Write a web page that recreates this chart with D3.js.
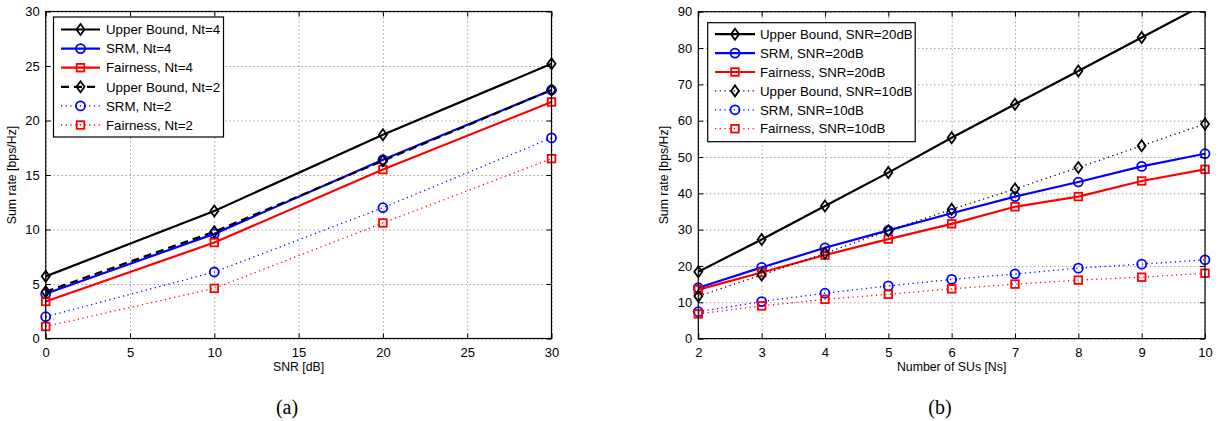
<!DOCTYPE html>
<html><head><meta charset="utf-8">
<script src="https://cdn.jsdelivr.net/npm/d3@7"></script>
<style>body{margin:0;background:#fff;} svg{display:block;font-family:"Liberation Sans",Arial,sans-serif;}</style>
</head><body>
<svg id="c" width="1225" height="421"></svg>
<script>
// ---- Data (a) ----
const snr = [0, 10, 20, 30];
const ubNt4 = [5.7, 11.7, 18.7, 25.2];
const srmNt4 = [4.1, 9.6, 16.4, 22.8];
const fairNt4 = [3.4, 8.8, 15.5, 21.7];
const ubNt2 = [4.3, 9.8, 16.3, 22.8];
const srmNt2 = [2.0, 6.1, 12.0, 18.4];
const fairNt2 = [1.1, 4.6, 10.6, 16.5];
const ticksXa = [0, 5, 10, 15, 20, 25, 30];
const ticksYa = [0, 5, 10, 15, 20, 25, 30];
const legendA = ["Upper Bound, Nt=4","SRM, Nt=4","Fairness, Nt=4","Upper Bound, Nt=2","SRM, Nt=2","Fairness, Nt=2"];
// ---- Data (b) ----
const ns = [2, 3, 4, 5, 6, 7, 8, 9, 10];
const ub20 = [18.4, 27.3, 36.5, 45.7, 55.3, 64.5, 73.7, 82.9, 92.1];
const srm20 = [14.0, 19.6, 25.0, 29.8, 34.5, 39.1, 43.1, 47.4, 50.9];
const fair20 = [13.5, 18.2, 23.0, 27.4, 31.6, 36.3, 39.1, 43.4, 46.6];
const ub10 = [11.7, 17.5, 23.5, 29.7, 35.6, 41.2, 47.1, 53.1, 59.1];
const srm10 = [7.4, 10.2, 12.5, 14.5, 16.3, 17.8, 19.4, 20.5, 21.7];
const fair10 = [6.8, 9.0, 10.8, 12.2, 13.7, 15.0, 16.1, 16.9, 18.0];
const ticksXb = [2, 3, 4, 5, 6, 7, 8, 9, 10];
const ticksYb = [0, 10, 20, 30, 40, 50, 60, 70, 80, 90];
const legendB = ["Upper Bound, SNR=20dB","SRM, SNR=20dB","Fairness, SNR=20dB","Upper Bound, SNR=10dB","SRM, SNR=10dB","Fairness, SNR=10dB"];

const svg = d3.select("#c");
const styles = [
  {c:"#000", m:"diamond", dash:null, w:2.2},
  {c:"#0000ff", m:"circle", dash:null, w:2.2},
  {c:"#ff0000", m:"square", dash:null, w:2.2},
];

function marker(g, type, x, y, color) {
  if (type === "diamond") {
    g.append("path").attr("d", `M${x},${y-5.5}L${x+4},${y}L${x},${y+5.5}L${x-4},${y}Z`)
      .attr("fill","none").attr("stroke",color).attr("stroke-width",1.8);
  } else if (type === "circle") {
    g.append("circle").attr("cx",x).attr("cy",y).attr("r",4.5)
      .attr("fill","none").attr("stroke",color).attr("stroke-width",1.8);
  } else {
    g.append("rect").attr("x",x-3.8).attr("y",y-3.8).attr("width",7.6).attr("height",7.6)
      .attr("fill","none").attr("stroke",color).attr("stroke-width",1.8);
  }
}

function panel(id, cfg) {
  const x = d3.scaleLinear().domain(cfg.xd).range([cfg.x0, cfg.x1]);
  const y = d3.scaleLinear().domain(cfg.yd).range([cfg.y0, cfg.y1]);
  const g = svg.append("g");
  // grid
  g.append("g").attr("transform",`translate(0,${cfg.y0})`)
    .call(d3.axisBottom(x).tickValues(cfg.tx).tickSize(-(cfg.y0-cfg.y1)).tickFormat(""))
    .call(a=>{a.select(".domain").remove(); a.selectAll("line").attr("stroke","#000").attr("stroke-dasharray","1,3").attr("stroke-width",0.8).attr("opacity",0.7);});
  g.append("g").attr("transform",`translate(${cfg.x0},0)`)
    .call(d3.axisLeft(y).tickValues(cfg.ty).tickSize(-(cfg.x1-cfg.x0)).tickFormat(""))
    .call(a=>{a.select(".domain").remove(); a.selectAll("line").attr("stroke","#000").attr("stroke-dasharray","1,3").attr("stroke-width",0.8).attr("opacity",0.7);});
  // clip
  svg.append("clipPath").attr("id","clip"+id).append("rect")
    .attr("x",cfg.x0).attr("y",cfg.y1).attr("width",cfg.x1-cfg.x0).attr("height",cfg.y0-cfg.y1);
  const gl = g.append("g").attr("clip-path",`url(#clip${id})`);
  const line = d3.line().x(d=>x(d[0])).y(d=>y(d[1]));
  cfg.series.forEach(s => {
    const pts = cfg.xs.map((v,i)=>[v, s.v[i]]);
    gl.append("path").attr("d", line(pts)).attr("fill","none").attr("stroke",s.c)
      .attr("stroke-width", s.w).attr("stroke-dasharray", s.dash);
    pts.forEach(p => { if (p[1] <= cfg.yd[1]) marker(g, s.m, x(p[0]), y(p[1]), s.c); });
  });
  // box & ticks
  const tl = 5;
  g.append("rect").attr("x",cfg.x0).attr("y",cfg.y1).attr("width",cfg.x1-cfg.x0).attr("height",cfg.y0-cfg.y1)
    .attr("fill","none").attr("stroke","#000").attr("stroke-width",1.2);
  const ax = g.append("g").attr("transform",`translate(0,${cfg.y0})`)
    .call(d3.axisBottom(x).tickValues(cfg.tx).tickSizeInner(-tl).tickSizeOuter(0).tickPadding(9));
  ax.select(".domain").remove();
  ax.selectAll("text").attr("font-size",13).attr("font-family","Liberation Sans, Arial, sans-serif").attr("fill","#000");
  g.append("g").attr("transform",`translate(0,${cfg.y1})`)
    .call(d3.axisTop(x).tickValues(cfg.tx).tickSizeInner(-tl).tickSizeOuter(0).tickFormat(""))
    .select(".domain").remove();
  const ay = g.append("g").attr("transform",`translate(${cfg.x0},0)`)
    .call(d3.axisLeft(y).tickValues(cfg.ty).tickSizeInner(-tl).tickSizeOuter(0).tickPadding(6));
  ay.select(".domain").remove();
  ay.selectAll("text").attr("font-size",13).attr("font-family","Liberation Sans, Arial, sans-serif").attr("fill","#000");
  g.append("g").attr("transform",`translate(${cfg.x1},0)`)
    .call(d3.axisRight(y).tickValues(cfg.ty).tickSizeInner(-tl).tickSizeOuter(0).tickFormat(""))
    .select(".domain").remove();
  // labels
  g.append("text").attr("x",(cfg.x0+cfg.x1)/2).attr("y",371).attr("text-anchor","middle")
    .attr("font-size",12.3).text(cfg.xl);
  g.append("text").attr("transform",`translate(${cfg.ylx},${(cfg.y0+cfg.y1)/2}) rotate(-90)`)
    .attr("text-anchor","middle").attr("font-size",12.3).text("Sum rate [bps/Hz]");
  g.append("text").attr("x",cfg.capx).attr("y",414).attr("text-anchor","middle")
    .attr("font-family","Liberation Serif, Times New Roman, serif").attr("font-size",20).text(cfg.cap);
  // legend
  const L = cfg.leg;
  g.append("rect").attr("x",L.x).attr("y",L.y).attr("width",L.w).attr("height",L.h)
    .attr("fill","#fff").attr("stroke","#000").attr("stroke-width",1.2);
  cfg.series.forEach((s,i) => {
    const yy = L.y + L.r0 + i*L.dy;
    g.append("line").attr("x1",L.lx0).attr("x2",L.lx1).attr("y1",yy).attr("y2",yy)
      .attr("stroke",s.c).attr("stroke-width",s.w).attr("stroke-dasharray",s.dash);
    marker(g, s.m, (L.lx0+L.lx1)/2, yy, s.c);
    g.append("text").attr("x",L.tx).attr("y",yy+4.7).attr("font-size",13.3).text(cfg.names[i]);
  });
}

panel("a", {
  xd:[0,30], yd:[0,30], x0:45.7, x1:551.5, y0:338.5, y1:11.5,
  tx:ticksXa, ty:ticksYa, xs:snr, xl:"SNR [dB]", ylx:16, cap:"(a)", capx:287,
  names: legendA,
  series:[
    {v:ubNt4, ...styles[0]}, {v:srmNt4, ...styles[1]}, {v:fairNt4, ...styles[2]},
    {v:ubNt2, c:"#000", m:"diamond", dash:"8,5", w:2.2},
    {v:srmNt2, c:"#0000ff", m:"circle", dash:"1.2,3.5", w:1.3},
    {v:fairNt2, c:"#ff0000", m:"square", dash:"1.2,3.5", w:1.3},
  ],
  leg:{x:53.5, y:17, w:170, h:120, r0:12.5, dy:19.1, lx0:61, lx1:100, tx:106}
});
panel("b", {
  xd:[2,10], yd:[0,90], x0:698.3, x1:1205, y0:338.6, y1:11.7,
  tx:ticksXb, ty:ticksYb, xs:ns, xl:"Number of SUs [Ns]", ylx:668, cap:"(b)", capx:940,
  names: legendB,
  series:[
    {v:ub20, ...styles[0]}, {v:srm20, ...styles[1]}, {v:fair20, ...styles[2]},
    {v:ub10, c:"#000", m:"diamond", dash:"1.2,3.5", w:1.3},
    {v:srm10, c:"#0000ff", m:"circle", dash:"1.2,3.5", w:1.3},
    {v:fair10, c:"#ff0000", m:"square", dash:"1.2,3.5", w:1.3},
  ],
  leg:{x:707.7, y:22.7, w:207.5, h:119, r0:11.5, dy:18.9, lx0:715, lx1:755, tx:760}
});
</script>
</body></html>
